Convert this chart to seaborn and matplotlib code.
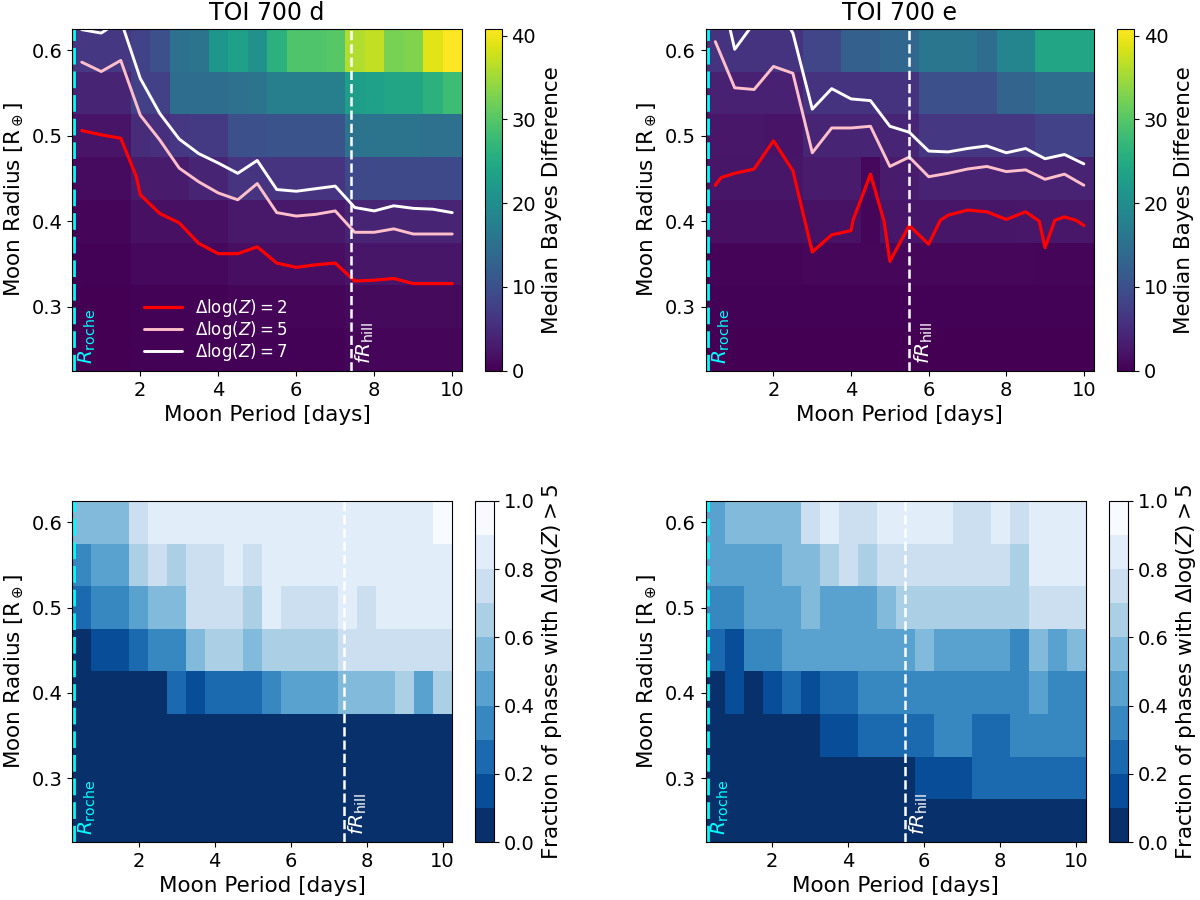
import numpy as np
import matplotlib
matplotlib.use('Agg')
import matplotlib.pyplot as plt
import seaborn as sns

sns.set_style('ticks', {'axes.edgecolor': 'black', 'xtick.color': 'black', 'ytick.color': 'black',
                        'text.color': 'black', 'axes.labelcolor': 'black'})
plt.rcParams['font.family'] = ['DejaVu Sans']
plt.rcParams['mathtext.fontset'] = 'dejavusans'

# grid of simulated moons
periods = [0.5, 1.0, 1.5, 2.0, 2.5, 3.0, 3.5, 4.0, 4.5, 5.0,
           5.5, 6.0, 6.5, 7.0, 7.5, 8.0, 8.5, 9.0, 9.5, 10.0]
radii = [0.60, 0.55, 0.50, 0.45, 0.40, 0.35, 0.30, 0.25]

roche = 0.30
fhill_d = 7.4
fhill_e = 5.5

# median Bayes difference, rows from R=0.60 down to R=0.25
bayes_d = [
    [6.5, 6.5, 6.5, 8.0, 10.0, 15.0, 15.5, 21.5, 23.0, 20.5, 26.0, 29.5, 29.5, 30.0, 36.0, 37.0, 32.5, 33.0, 39.0, 40.8],
    [4.0, 4.0, 4.0, 7.8, 7.8, 14.5, 14.5, 14.5, 15.0, 15.5, 17.5, 17.5, 17.5, 17.5, 22.5, 23.0, 24.0, 24.0, 26.0, 28.0],
    [2.2, 2.2, 2.2, 5.0, 5.5, 6.5, 7.0, 7.0, 10.0, 10.0, 10.5, 10.5, 10.5, 10.5, 15.5, 15.5, 15.5, 15.5, 15.0, 15.0],
    [1.2, 1.2, 1.2, 3.0, 3.0, 3.0, 4.0, 4.0, 6.2, 6.2, 6.2, 6.2, 6.2, 6.2, 9.0, 9.0, 9.0, 9.0, 9.0, 9.0],
    [0.5, 0.5, 0.5, 1.6, 1.6, 1.6, 1.6, 1.6, 2.7, 2.7, 2.7, 2.7, 2.7, 2.7, 4.0, 4.0, 4.0, 4.0, 4.0, 4.0],
    [0.2, 0.2, 0.2, 0.9, 0.9, 0.9, 0.9, 0.9, 1.5, 1.5, 1.5, 1.5, 1.5, 1.5, 2.3, 2.3, 2.3, 2.3, 2.3, 2.3],
    [0.1, 0.1, 0.1, 0.3, 0.3, 0.3, 0.3, 0.3, 0.6, 0.6, 0.6, 0.6, 0.6, 0.6, 1.0, 1.0, 1.0, 1.0, 1.0, 1.0],
    [0.1, 0.1, 0.1, 0.2, 0.2, 0.2, 0.2, 0.2, 0.3, 0.3, 0.3, 0.3, 0.3, 0.3, 0.5, 0.5, 0.5, 0.5, 0.5, 0.5],
]
bayes_e = [
    [6.0, 6.0, 6.0, 6.0, 6.0, 8.6, 8.6, 12.3, 12.3, 13.5, 13.5, 16.0, 16.0, 16.0, 14.5, 18.5, 18.5, 24.0, 24.0, 24.0],
    [3.7, 3.7, 3.7, 3.7, 3.7, 6.0, 6.0, 6.0, 6.0, 6.0, 6.0, 10.0, 10.0, 10.0, 10.0, 13.0, 13.0, 14.5, 14.5, 14.5],
    [2.5, 2.5, 2.5, 2.2, 2.2, 4.1, 4.1, 4.1, 4.1, 4.1, 4.1, 6.5, 6.5, 6.5, 6.5, 6.5, 6.5, 8.0, 8.0, 8.0],
    [2.3, 2.3, 2.3, 2.3, 2.3, 2.9, 2.9, 2.9, 0.8, 3.0, 3.0, 3.9, 3.9, 3.9, 3.9, 3.9, 3.9, 3.9, 3.9, 3.9],
    [1.6, 1.6, 1.6, 1.6, 1.6, 1.8, 1.8, 1.8, 0.5, 2.3, 2.3, 2.3, 2.3, 2.3, 2.3, 2.3, 2.5, 2.5, 2.5, 2.5],
    [0.4, 0.4, 0.4, 0.4, 0.4, 0.7, 0.7, 0.7, 0.7, 0.7, 0.7, 0.7, 0.7, 0.7, 0.7, 0.7, 0.7, 0.5, 0.5, 0.5],
    [0.2, 0.2, 0.2, 0.2, 0.2, 0.2, 0.2, 0.2, 0.2, 0.2, 0.2, 0.2, 0.2, 0.2, 0.2, 0.2, 0.2, 0.2, 0.2, 0.2],
    [0.1, 0.1, 0.1, 0.1, 0.1, 0.1, 0.1, 0.1, 0.1, 0.1, 0.1, 0.1, 0.1, 0.1, 0.1, 0.1, 0.1, 0.1, 0.1, 0.1],
]

# fraction of phases with dlogZ > 5, rows from R=0.60 down to R=0.25
frac_d = [
    [0.5, 0.5, 0.5, 0.7, 0.8, 0.8, 0.8, 0.8, 0.8, 0.8, 0.8, 0.8, 0.8, 0.8, 0.8, 0.8, 0.8, 0.8, 0.8, 0.9],
    [0.3, 0.4, 0.4, 0.6, 0.7, 0.6, 0.7, 0.7, 0.8, 0.7, 0.8, 0.8, 0.8, 0.8, 0.8, 0.8, 0.8, 0.8, 0.8, 0.8],
    [0.2, 0.3, 0.3, 0.4, 0.5, 0.5, 0.7, 0.7, 0.7, 0.6, 0.8, 0.7, 0.7, 0.7, 0.8, 0.7, 0.8, 0.8, 0.8, 0.8],
    [0.0, 0.1, 0.1, 0.2, 0.3, 0.3, 0.5, 0.6, 0.6, 0.5, 0.6, 0.6, 0.6, 0.6, 0.7, 0.7, 0.7, 0.7, 0.7, 0.7],
    [0.0, 0.0, 0.0, 0.0, 0.0, 0.2, 0.1, 0.2, 0.2, 0.2, 0.3, 0.4, 0.4, 0.4, 0.5, 0.5, 0.5, 0.6, 0.4, 0.6],
    [0.0, 0.0, 0.0, 0.0, 0.0, 0.0, 0.0, 0.0, 0.0, 0.0, 0.0, 0.0, 0.0, 0.0, 0.0, 0.0, 0.0, 0.0, 0.0, 0.0],
    [0.0, 0.0, 0.0, 0.0, 0.0, 0.0, 0.0, 0.0, 0.0, 0.0, 0.0, 0.0, 0.0, 0.0, 0.0, 0.0, 0.0, 0.0, 0.0, 0.0],
    [0.0, 0.0, 0.0, 0.0, 0.0, 0.0, 0.0, 0.0, 0.0, 0.0, 0.0, 0.0, 0.0, 0.0, 0.0, 0.0, 0.0, 0.0, 0.0, 0.0],
]
frac_e = [
    [0.4, 0.5, 0.5, 0.5, 0.5, 0.7, 0.8, 0.7, 0.7, 0.8, 0.8, 0.8, 0.8, 0.7, 0.7, 0.8, 0.7, 0.8, 0.8, 0.8],
    [0.4, 0.4, 0.4, 0.4, 0.5, 0.5, 0.6, 0.7, 0.6, 0.7, 0.7, 0.7, 0.7, 0.7, 0.7, 0.7, 0.6, 0.8, 0.8, 0.8],
    [0.3, 0.3, 0.4, 0.4, 0.4, 0.5, 0.4, 0.4, 0.4, 0.5, 0.6, 0.6, 0.6, 0.6, 0.6, 0.6, 0.6, 0.7, 0.7, 0.7],
    [0.2, 0.1, 0.3, 0.3, 0.4, 0.4, 0.4, 0.4, 0.4, 0.4, 0.4, 0.5, 0.4, 0.4, 0.4, 0.4, 0.3, 0.5, 0.4, 0.5],
    [0.0, 0.1, 0.0, 0.1, 0.2, 0.1, 0.2, 0.2, 0.3, 0.3, 0.3, 0.3, 0.3, 0.3, 0.3, 0.3, 0.3, 0.4, 0.3, 0.3],
    [0.0, 0.0, 0.0, 0.0, 0.0, 0.0, 0.1, 0.1, 0.2, 0.2, 0.2, 0.2, 0.3, 0.3, 0.2, 0.2, 0.3, 0.3, 0.3, 0.3],
    [0.0, 0.0, 0.0, 0.0, 0.0, 0.0, 0.0, 0.0, 0.0, 0.0, 0.0, 0.1, 0.1, 0.1, 0.2, 0.2, 0.2, 0.2, 0.2, 0.2],
    [0.0, 0.0, 0.0, 0.0, 0.0, 0.0, 0.0, 0.0, 0.0, 0.0, 0.0, 0.0, 0.0, 0.0, 0.0, 0.0, 0.0, 0.0, 0.0, 0.0],
]

# dlogZ contour lines (period, radius)
d_x2 = [0.5, 1.0, 1.5, 1.9, 2.0, 2.5, 3.0, 3.5, 4.0, 4.5, 5.0, 5.5, 6.0, 6.5, 7.0, 7.5, 8.0, 8.5, 9.0, 9.5, 10.0]
d_y2 = [0.506, 0.501, 0.497, 0.452, 0.431, 0.409, 0.398, 0.374, 0.362, 0.362, 0.370, 0.351, 0.346, 0.349,
        0.351, 0.330, 0.331, 0.333, 0.327, 0.327, 0.327]
d_y5 = [0.586, 0.575, 0.588, 0.524, 0.495, 0.462, 0.446, 0.433, 0.425, 0.444, 0.410, 0.406, 0.408, 0.412,
        0.387, 0.387, 0.391, 0.385, 0.385, 0.385]
d_y7 = [0.624, 0.620, 0.635, 0.567, 0.526, 0.496, 0.479, 0.468, 0.456, 0.471, 0.437, 0.435, 0.438, 0.441,
        0.416, 0.412, 0.418, 0.415, 0.414, 0.410]

e_x2 = [0.5, 0.65, 1.0, 1.5, 2.0, 2.5, 3.0, 3.5, 4.0, 4.05, 4.5, 4.85, 5.0, 5.5, 6.0, 6.3, 6.5, 7.0,
        7.5, 8.0, 8.5, 8.85, 9.0, 9.25, 9.5, 9.8, 10.0]
e_y2 = [0.442, 0.451, 0.456, 0.461, 0.494, 0.459, 0.364, 0.384, 0.389, 0.401, 0.455, 0.400, 0.353, 0.395,
        0.373, 0.401, 0.407, 0.413, 0.411, 0.402, 0.411, 0.400, 0.369, 0.401, 0.405, 0.401, 0.395]
e_y5 = [0.610, 0.556, 0.554, 0.581, 0.573, 0.480, 0.509, 0.509, 0.511, 0.464, 0.475, 0.452, 0.456, 0.461,
        0.464, 0.458, 0.460, 0.449, 0.455, 0.442]
e_y7 = [0.700, 0.601, 0.632, 0.660, 0.620, 0.531, 0.555, 0.543, 0.541, 0.511, 0.504, 0.482, 0.481, 0.485,
        0.488, 0.480, 0.485, 0.473, 0.478, 0.467]

FS_LAB = 15.5
FS_TICK = 14

fig = plt.figure(figsize=(12, 9), dpi=100)
ax_tl = fig.add_axes([0.060, 0.588, 0.325, 0.380])
cax_tl = fig.add_axes([0.404, 0.588, 0.0142, 0.380])
ax_tr = fig.add_axes([0.588, 0.588, 0.3233, 0.380])
cax_tr = fig.add_axes([0.931, 0.588, 0.0142, 0.380])
ax_bl = fig.add_axes([0.060, 0.0644, 0.3167, 0.379])
cax_bl = fig.add_axes([0.396, 0.0644, 0.0158, 0.379])
ax_br = fig.add_axes([0.588, 0.0644, 0.3167, 0.379])
cax_br = fig.add_axes([0.924, 0.0644, 0.0158, 0.379])

vmax = max(np.max(bayes_d), np.max(bayes_e))
blues = plt.get_cmap('Blues_r', 10)


def decorate(ax, fhill):
    ax.axvline(roche, color='cyan', ls=(0, (6, 2.5)), lw=2)
    ax.axvline(fhill, color='white', ls='--', lw=1.8)
    ax.text(roche + 0.07, 0.233, r'$R_{\rm roche}$', color='cyan', rotation=90,
            ha='left', va='bottom', fontsize=14.5)
    ax.text(fhill + 0.08, 0.233, r'$fR_{\rm hill}$', color='white', rotation=90,
            ha='left', va='bottom', fontsize=14.5)
    ax.set_xlim(0.25, 10.25)
    ax.set_ylim(0.225, 0.625)
    ax.set_xticks([2, 4, 6, 8, 10])
    ax.set_yticks([0.3, 0.4, 0.5, 0.6])
    ax.tick_params(labelsize=FS_TICK)
    ax.set_xlabel('Moon Period [days]', fontsize=FS_LAB)
    ax.set_ylabel(r'Moon Radius [R$_\oplus$]', fontsize=FS_LAB)


panels = [
    (ax_tl, cax_tl, bayes_d, fhill_d, 'TOI 700 d', (d_x2, d_y2), (periods, d_y5), (periods, d_y7)),
    (ax_tr, cax_tr, bayes_e, fhill_e, 'TOI 700 e', (e_x2, e_y2), (periods, e_y5), (periods, e_y7)),
]
for ax, cax, z, fhill, title, c2, c5, c7 in panels:
    mesh = ax.pcolormesh(periods, radii, np.array(z), cmap='viridis', vmin=0, vmax=vmax,
                         shading='nearest', edgecolors='none')
    show = ax is ax_tl
    sns.lineplot(x=c2[0], y=c2[1], color='red', lw=2.3, sort=False, estimator=None, ax=ax,
                 label=r'$\Delta\log(Z) = 2$' if show else None, legend=show)
    sns.lineplot(x=c5[0], y=c5[1], color='pink', lw=2.1, sort=False, estimator=None, ax=ax,
                 label=r'$\Delta\log(Z) = 5$' if show else None, legend=show)
    sns.lineplot(x=c7[0], y=c7[1], color='white', lw=2.1, sort=False, estimator=None, ax=ax,
                 label=r'$\Delta\log(Z) = 7$' if show else None, legend=show)
    decorate(ax, fhill)
    ax.set_title(title, fontsize=17)
    cb = fig.colorbar(mesh, cax=cax, ticks=[0, 10, 20, 30, 40])
    cb.ax.tick_params(labelsize=FS_TICK)
    cb.set_label('Median Bayes Difference', fontsize=FS_LAB)

leg = ax_tl.legend(loc='lower left', bbox_to_anchor=(0.145, -0.02), frameon=False,
                   fontsize=12, labelspacing=0.0, handlelength=2.3)
for t in leg.get_texts():
    t.set_color('white')

for ax, cax, z, fhill in [(ax_bl, cax_bl, frac_d, fhill_d), (ax_br, cax_br, frac_e, fhill_e)]:
    mesh = ax.pcolormesh(periods, radii, np.array(z), cmap=blues, vmin=0, vmax=1,
                         shading='nearest', edgecolors='none')
    decorate(ax, fhill)
    cb = fig.colorbar(mesh, cax=cax, ticks=[0.0, 0.2, 0.4, 0.6, 0.8, 1.0])
    cb.ax.tick_params(labelsize=FS_TICK)
    cb.ax.set_yticklabels(['0.0', '0.2', '0.4', '0.6', '0.8', '1.0'])
    cb.set_label(r'Fraction of phases with $\Delta\log(Z) > 5$', fontsize=FS_LAB)

fig.savefig('out.png', dpi=100)
